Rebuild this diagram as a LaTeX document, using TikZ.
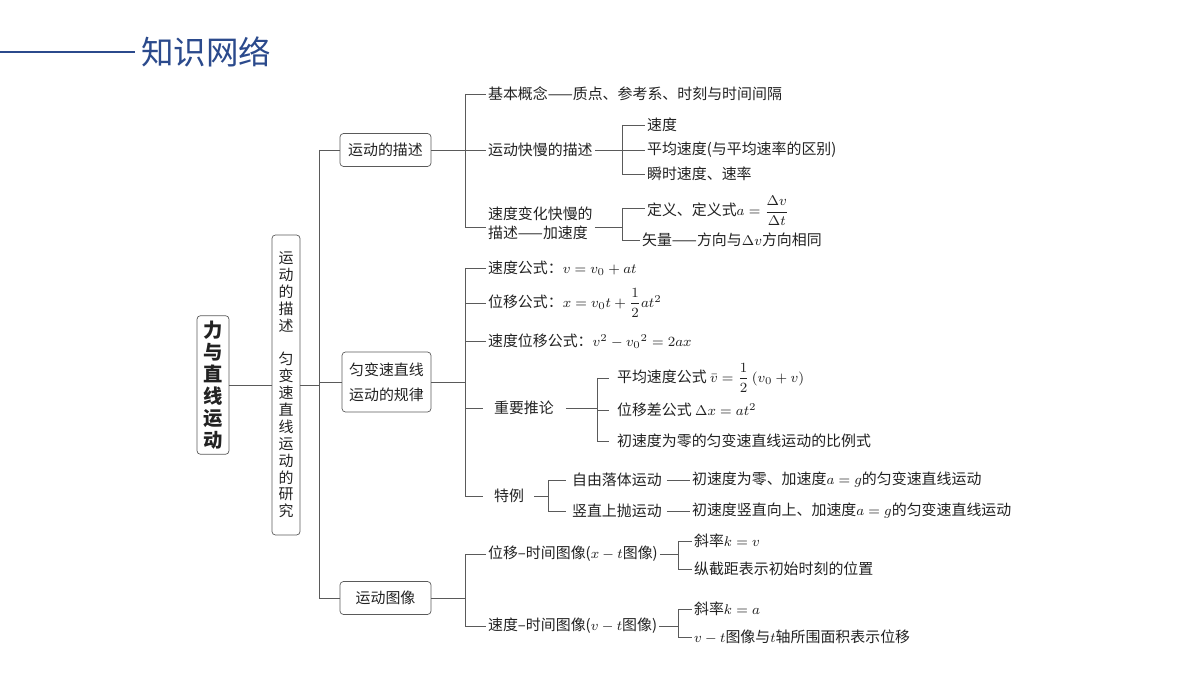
\documentclass[tikz,border=0pt]{standalone}
\usepackage{amsmath}
\usepackage{fontspec}
\setmainfont{Noto Sans CJK SC}
\usepackage{tikz}
\definecolor{titleblue}{HTML}{2B4A8C}
\definecolor{linegray}{HTML}{5A5A5A}
\definecolor{txt}{HTML}{222222}
\tikzset{
  item/.style={anchor=west,inner sep=1pt,text=txt,font=\fontsize{8.5}{11}\selectfont,align=left},
  topicbox/.style={draw=linegray,rounded corners=2pt,inner sep=3pt,text=txt,
    font=\fontsize{8.5}{11}\selectfont,align=center},
  link/.style={draw=linegray,line width=0.5pt}
}
\begin{document}
\begin{tikzpicture}[x=0.02cm,y=-0.02cm]
\useasboundingbox (0,0) rectangle (1200,675);
% title
\draw[titleblue,line width=1pt] (0,52) -- (135,52);
\node[anchor=west,inner sep=0pt,text=titleblue,font=\fontsize{18.5}{20}\selectfont] (title) at (141,52) {知识网络};

% left column
\node[topicbox,minimum width=32*0.02cm,text width=12pt,font=\fontsize{11}{12.5}\bfseries\selectfont,minimum height=133*0.02cm] (root) at (213,385) {力\\与\\直\\线\\运\\动};
\node[topicbox,text width=10pt,font=\fontsize{8.5}{9.6}\selectfont,minimum height=300*0.02cm] (chap) at (286,385)
  {运\\动\\的\\描\\述\\\mbox{}\\匀\\变\\速\\直\\线\\运\\动\\的\\研\\究};
\node[topicbox,minimum width=91*0.02cm,minimum height=33*0.02cm] (desc) at (385.5,150) {运动的描述};
\node[topicbox,minimum width=89*0.02cm,minimum height=60*0.02cm,font=\fontsize{8.5}{14}\selectfont] (law) at (386.5,382) {匀变速直线\\运动的规律};
\node[topicbox,minimum width=91*0.02cm,minimum height=33*0.02cm] (graph) at (385.5,598) {运动图像};

\coordinate (trunk) at (319,385);
\draw[link] (root.east) -- (chap.west);
\draw[link] (chap.east) -- (trunk);
\draw[link] (trunk |- desc.west) -- (trunk |- graph.west);
\foreach \n in {desc,law,graph} \draw[link] (trunk |- \n.west) -- (\n.west);

% motion description
\node[item] (basic) at (486,94) {基本概念——质点、参考系、时刻与时间间隔};
\node[item] (speed) at (486,150) {运动快慢的描述};
\node[item] (accel) at (486,223) {速度变化快慢的\\描述——加速度};
\coordinate (s1) at (465,150);
\draw[link] (desc.east) -- (s1);
\draw[link] (s1 |- basic.west) -- (s1 |- 0,227);
\foreach \n in {basic,speed} \draw[link] (s1 |- \n.west) -- (\n.west);
\draw[link] (s1 |- 0,227) -- (accel.west |- 0,227);

\node[item] (v1) at (645,125) {速度};
\node[item] (v2) at (645,150) {平均速度(与平均速率的区别)};
\node[item] (v3) at (645,174) {瞬时速度、速率};
\coordinate (s2) at (622,150);
\draw[link] (speed.east) -- (s2);
\draw[link] (s2 |- v1.west) -- (s2 |- v3.west);
\foreach \n in {v1,v2,v3} \draw[link] (s2 |- \n.west) -- (\n.west);

\node[item] (a1) at (645,211) {定义、定义式$a=\dfrac{\Delta v}{\Delta t}$};
\node[item] (a2) at (640,240) {矢量——方向与$\Delta v$方向相同};
\coordinate (s3) at (622,227);
\draw[link] (accel.east |- s3) -- (s3);
\draw[link] (s3 |- 0,208) -- (s3 |- a2.west);
\draw[link] (s3 |- 0,208) -- (a1.west |- 0,208);
\draw[link] (s3 |- a2.west) -- (a2.west);

% uniformly accelerated motion
\node[item] (f1) at (486,268) {速度公式：$v=v_0+at$};
\node[item] (f2) at (486,303) {位移公式：$x=v_0t+\dfrac{1}{2}at^2$};
\node[item] (f3) at (486,341) {速度位移公式：$v^2-{v_0}^2=2ax$};
\node[item] (f4) at (492,408) {重要推论};
\node[item] (f5) at (492,496) {特例};
\coordinate (s4) at (465,382);
\draw[link] (law.east) -- (s4);
\draw[link] (s4 |- f1.west) -- (s4 |- f5.west);
\foreach \n in {f1,f2,f3} \draw[link] (s4 |- \n.west) -- (\n.west);
\draw[link] (s4 |- f4.west) -- ++(18,0);
\draw[link] (s4 |- f5.west) -- ++(18,0);

\node[item] (r1) at (615,378) {平均速度公式 $\bar v=\dfrac{1}{2}\,(v_0+v)$};
\node[item] (r2) at (615,410) {位移差公式 $\Delta x=at^2$};
\node[item] (r3) at (615,441) {初速度为零的匀变速直线运动的比例式};
\coordinate (s5) at (597,408);
\draw[link] (f4.east) ++(10,0) -- (s5);
\draw[link] (s5 |- r1.west) -- (s5 |- r3.west);
\foreach \n in {r1,r2,r3} \draw[link] (s5 |- \n.west) -- ++(12,0);

\node[item] (c1) at (570,480) {自由落体运动};
\node[item] (c2) at (570,511) {竖直上抛运动};
\node[item] (d1) at (690,480) {初速度为零、加速度$a=g$的匀变速直线运动};
\node[item] (d2) at (690,511) {初速度竖直向上、加速度$a=g$的匀变速直线运动};
\coordinate (s6) at (548,496);
\draw[link] (f5.east) ++(8,0) -- (s6);
\draw[link] (s6 |- c1.west) -- (s6 |- c2.west);
\foreach \n in {c1,c2} \draw[link] (s6 |- \n.west) -- ++(18,0);
\draw[link] (c1.east) ++(3,0) -- (d1.west);
\draw[link] (c2.east) ++(3,0) -- (d2.west);

% graphs
\node[item] (g1) at (486,554) {位移–时间图像($x-t$图像)};
\node[item] (g2) at (486,626) {速度–时间图像($v-t$图像)};
\coordinate (s7) at (465,598);
\draw[link] (graph.east) -- (s7);
\draw[link] (s7 |- g1.west) -- (s7 |- g2.west);
\foreach \n in {g1,g2} \draw[link] (s7 |- \n.west) -- (\n.west);

\node[item] (k1) at (692,541) {斜率$k=v$};
\node[item] (k2) at (692,569) {纵截距表示初始时刻的位置};
\node[item] (k3) at (692,609) {斜率$k=a$};
\node[item] (k4) at (692,637) {$v-t$图像与$t$轴所围面积表示位移};
\coordinate (s8) at (678,554);
\coordinate (s9) at (678,626);
\draw[link] (g1.east) -- (s8);
\draw[link] (g2.east) -- (s9);
\draw[link] (s8 |- k1.west) -- (s8 |- k2.west);
\draw[link] (s9 |- k3.west) -- (s9 |- k4.west);
\foreach \n in {k1,k2} \draw[link] (s8 |- \n.west) -- (\n.west);
\foreach \n in {k3,k4} \draw[link] (s9 |- \n.west) -- (\n.west);
\end{tikzpicture}
\end{document}
